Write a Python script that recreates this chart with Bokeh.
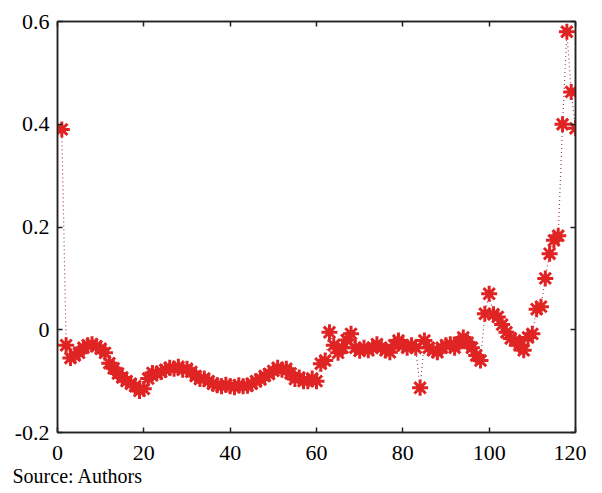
from bokeh.plotting import figure
from bokeh.models import LinearAxis, Range1d, FixedTicker, Title
from bokeh.embed import file_html
from bokeh.resources import INLINE

x_vals = list(range(1, 121))
y_vals = [
    0.39, -0.03, -0.055, -0.05, -0.045, -0.035, -0.03, -0.028, -0.032, -0.037,
    -0.045, -0.065, -0.075, -0.085, -0.093, -0.10, -0.105, -0.11, -0.119, -0.115,
    -0.095, -0.084, -0.085, -0.082, -0.078, -0.074, -0.076, -0.072, -0.078, -0.076,
    -0.082, -0.09, -0.096, -0.095, -0.10, -0.105, -0.108, -0.11, -0.107, -0.11,
    -0.112, -0.108, -0.11, -0.109, -0.105, -0.10, -0.097, -0.09, -0.086, -0.08,
    -0.074, -0.078, -0.076, -0.085, -0.096, -0.093, -0.10, -0.10, -0.095, -0.10,
    -0.066, -0.06, -0.005, -0.03, -0.045, -0.035, -0.02, -0.008, -0.035, -0.041,
    -0.035, -0.04, -0.035, -0.028, -0.035, -0.04, -0.044, -0.03, -0.021, -0.03,
    -0.035, -0.03, -0.035, -0.113, -0.021, -0.035, -0.04, -0.044, -0.035, -0.03,
    -0.028, -0.035, -0.025, -0.015, -0.025, -0.035, -0.05, -0.06, 0.031, 0.07,
    0.03, 0.025, 0.01, -0.005, -0.017, -0.021, -0.03, -0.04, -0.015, -0.008,
    0.04, 0.045, 0.10, 0.148, 0.174, 0.183, 0.40, 0.58, 0.463, 0.392,
]
x_ticks = [0, 20, 40, 60, 80, 100, 120]
y_ticks = [-0.2, 0, 0.2, 0.4, 0.6]
y_tick_labels = {-0.2: "-0.2", 0: "0", 0.2: "0.2", 0.4: "0.4", 0.6: "0.6"}
source_text = "Source: Authors"

FONT = "Liberation Serif"

p = figure(width=586, height=493, output_backend="svg", toolbar_location=None,
           x_range=Range1d(0, 120), y_range=Range1d(-0.2, 0.6),
           x_axis_location=None, y_axis_location=None,
           min_border_left=57, min_border_right=11, min_border_top=21, min_border_bottom=61)
p.xgrid.visible = False
p.ygrid.visible = False
p.outline_line_color = "#222222"
p.outline_line_width = 1.5
p.background_fill_color = "white"
p.border_fill_color = "white"

def style(ax, labels=True):
    ax.major_tick_in = 5
    ax.major_tick_out = 0
    ax.minor_tick_in = 0
    ax.minor_tick_out = 0
    ax.axis_line_color = "#222222"
    ax.axis_line_width = 1.5
    ax.major_tick_line_color = "#222222"
    ax.major_tick_line_width = 1.5
    ax.major_label_text_font = FONT
    ax.major_label_text_font_size = "22px"
    ax.major_label_text_color = "black" if labels else None

xb = LinearAxis(ticker=FixedTicker(ticks=x_ticks))
style(xb)
xb.major_label_standoff = 13
xt = LinearAxis(ticker=FixedTicker(ticks=x_ticks))
style(xt, labels=False)
yl = LinearAxis(ticker=FixedTicker(ticks=y_ticks))
style(yl)
yl.major_label_overrides = y_tick_labels
yl.major_label_standoff = 8
yr = LinearAxis(ticker=FixedTicker(ticks=y_ticks))
style(yr, labels=False)
p.add_layout(xb, "below")
p.add_layout(xt, "above")
p.add_layout(yl, "left")
p.add_layout(yr, "right")
for ax in (xt, yr):
    ax.major_label_text_font_size = "0px"
    ax.major_label_standoff = 0

p.line(x_vals, y_vals, line_color="#a04858", line_width=1.2, line_dash="1 3")
p.scatter(x_vals, y_vals, marker="circle", size=7, fill_color="#e02424", line_color=None)
p.scatter(x_vals, y_vals, marker="asterisk", size=16, line_color="#e02424", line_width=3, fill_color=None)

src = Title(text=source_text, align="left", offset=-45, standoff=0,
            text_font=FONT, text_font_size="20px", text_font_style="normal",
            text_color="black")
p.add_layout(src, "below")

open("out.html", "w").write(file_html(p, INLINE))
